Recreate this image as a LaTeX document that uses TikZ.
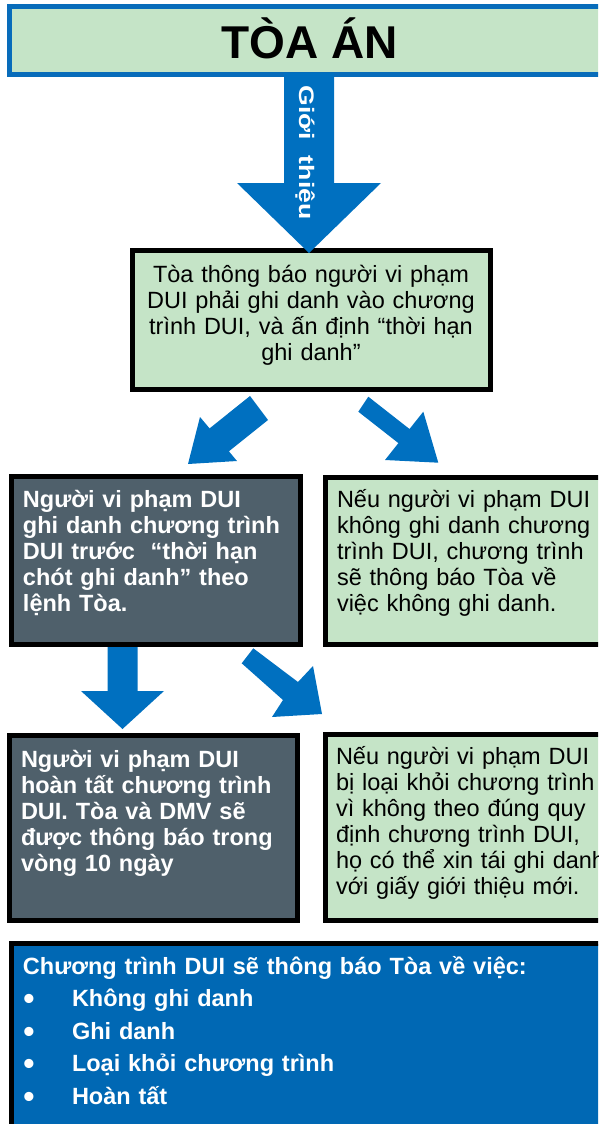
\documentclass[tikz,border=0pt]{standalone}
\usepackage{fontspec}
\setmainfont{Liberation Sans}
\definecolor{boxgreen}{RGB}{197,228,199}
\definecolor{boxdark}{RGB}{79,96,107}
\definecolor{arrowblue}{RGB}{0,112,192}
\definecolor{titleblue}{RGB}{8,108,186}
\definecolor{listblue}{RGB}{0,104,180}
\tikzset{
  box/.style={rectangle, draw=black, line width=5pt, inner sep=0pt},
  greenbox/.style={box, fill=boxgreen},
  darkbox/.style={box, fill=boxdark},
  blockarrow/.style={fill=arrowblue, draw=none},
  bodytext/.style={font=\fontsize{23.5}{26}\selectfont, inner sep=0pt, outer sep=0pt, align=left, anchor=base west, text width=330pt},
  boldtext/.style={bodytext, font=\bfseries\fontsize{23.5}{26}\selectfont, text=white}
}
\begin{document}
\begin{tikzpicture}[x=1pt,y=-1pt]
\useasboundingbox (0,0) rectangle (598,1124);
\clip (0,0) rectangle (598,1124);
% boxes
\node[box, draw=titleblue, fill=boxgreen, minimum width=631pt, minimum height=68pt] (court) at (324.5,40.5) {};
\node[greenbox, minimum width=358pt, minimum height=139pt] (notice) at (311.5,320) {};
\node[darkbox, minimum width=289pt, minimum height=168pt] (enroll) at (156,560.5) {};
\node[greenbox, minimum width=314.5pt, minimum height=167pt] (noenroll) at (482.75,561) {};
\node[darkbox, minimum width=288pt, minimum height=185pt] (complete) at (153.5,828) {};
\node[greenbox, minimum width=314.5pt, minimum height=186pt] (dropped) at (482.75,827.5) {};
\node[box, fill=listblue, minimum width=628.5pt, minimum height=216.5pt] (summary) at (325.75,1051.75) {};
% block arrows
\fill[blockarrow] (284,73) -- (334,73) -- (334,183) -- (381,183) -- (309,253) -- (237,183) -- (284,183) -- cycle;
\fill[blockarrow] (250,396) -- (209.6,428.4) -- (200,417) -- (188,464) -- (237,461) -- (228.9,451.3) -- (268,420) -- cycle;
\fill[blockarrow] (368.3,396.7) -- (409.5,429) -- (423.3,411.7) -- (438.3,462.7) -- (385,460) -- (398.4,443.1) -- (358.3,411.7) -- cycle;
\fill[blockarrow] (107.5,647) -- (137.5,647) -- (137.5,691) -- (164,691) -- (122.5,729) -- (81,691) -- (107.5,691) -- cycle;
\fill[blockarrow] (253.3,648.3) -- (298,682) -- (313,666) -- (322,714) -- (272,717) -- (283,700) -- (241.7,663.3) -- cycle;
% texts
\node[anchor=base, inner sep=0pt, font=\bfseries\fontsize{46}{50}\selectfont] (courtlabel) at (310,59) {TÒA ÁN};
\node[anchor=base, inner sep=0pt, rotate=-90, text=white, font=\bfseries\fontsize{21}{24}\selectfont] (introlabel) at (299,152.5) {\scalebox{1.27}[1]{Giới\hspace{0.6em}thiệu}};
\node[bodytext, anchor=base, align=center, text width=360pt] (noticetext) at (311,282) {Tòa thông báo người vi phạm\\DUI phải ghi danh vào chương\\trình DUI, và ấn định “thời hạn\\ghi danh”};
\node[boldtext] (enrolltext) at (23,507.5) {Người vi phạm DUI\\ghi danh chương trình\\DUI trước\ \ “thời hạn\\chót ghi danh” theo\\lệnh Tòa.};
\node[bodytext] (noenrolltext) at (337,507) {Nếu người vi phạm DUI\\không ghi danh chương\\trình DUI, chương trình\\sẽ thông báo Tòa về\\việc không ghi danh.};
\node[boldtext] (completetext) at (21,767) {Người vi phạm DUI\\hoàn tất chương trình\\DUI. Tòa và DMV sẽ\\được thông báo trong\\vòng 10 ngày};
\node[bodytext] (droppedtext) at (336,764) {Nếu người vi phạm DUI\\bị loại khỏi chương trình\\vì không theo đúng quy\\định chương trình DUI,\\họ có thể xin tái ghi danh\\với giấy giới thiệu mới.};
\node[boldtext, font=\bfseries\fontsize{23.5}{32.5}\selectfont, text width=600pt] (summarytext) at (23,974) {Chương trình DUI sẽ thông báo Tòa về việc:\\
\makebox[49pt][l]{\hspace{0.5pt}\raisebox{-3pt}{\fontsize{32}{32}\selectfont •}}Không ghi danh\\
\makebox[49pt][l]{\hspace{0.5pt}\raisebox{-3pt}{\fontsize{32}{32}\selectfont •}}Ghi danh\\
\makebox[49pt][l]{\hspace{0.5pt}\raisebox{-3pt}{\fontsize{32}{32}\selectfont •}}Loại khỏi chương trình\\
\makebox[49pt][l]{\hspace{0.5pt}\raisebox{-3pt}{\fontsize{32}{32}\selectfont •}}Hoàn tất};
\end{tikzpicture}
\end{document}
